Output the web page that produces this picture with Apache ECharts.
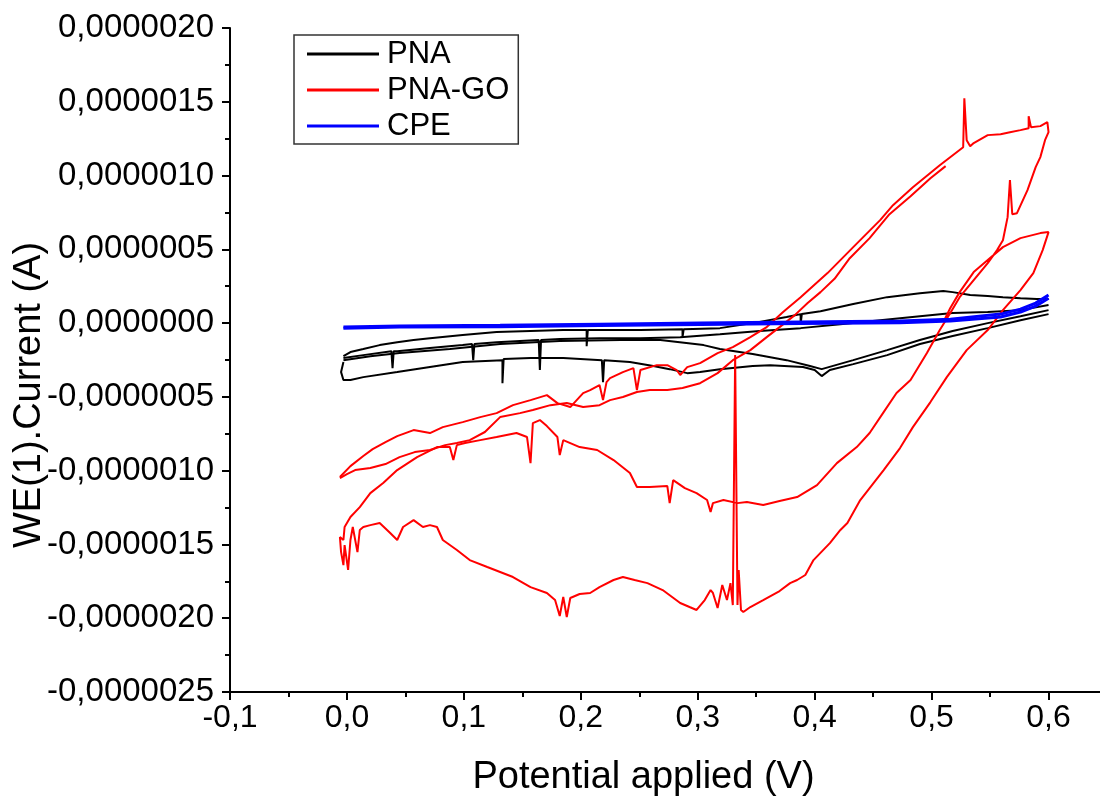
<!DOCTYPE html>
<html>
<head>
<meta charset="utf-8">
<title>CV PNA / PNA-GO / CPE</title>
<script src="https://cdn.jsdelivr.net/npm/echarts@6/dist/echarts.min.js"></script>
<style>
  html, body { margin: 0; padding: 0; background: #ffffff; }
  #chart { width: 1100px; height: 797px; }
</style>
</head>
<body>
<div id="chart"></div>
<script>
// potential in V, current in µA (axis labels are shown in A)
const seriesNames = ["PNA", "PNA-GO", "CPE"];
const xTicks = [-0.1, 0.0, 0.1, 0.2, 0.3, 0.4, 0.5, 0.6];
const yTicks = [-2.5, -2.0, -1.5, -1.0, -0.5, 0.0, 0.5, 1.0, 1.5, 2.0];

// PNA (black) - two cycles, four sweeps
const pnaUp1 = [
  [-0.003,-0.224],[0.003,-0.196],[0.014,-0.176],[0.028,-0.149],[0.043,-0.129],[0.057,-0.115],
  [0.071,-0.102],[0.099,-0.081],[0.128,-0.061],[0.157,-0.054],[0.185,-0.047],[0.205,-0.047],
  [0.205,-0.156],[0.206,-0.047],[0.216,-0.047],[0.251,-0.047],[0.287,-0.041],[0.287,-0.095],
  [0.288,-0.041],[0.319,-0.034],[0.347,0.000],[0.376,0.041],[0.388,0.061],[0.388,-0.007],
  [0.389,0.061],[0.405,0.081],[0.433,0.129],[0.462,0.176],[0.490,0.203],[0.510,0.217],
  [0.518,0.210],[0.533,0.190],[0.548,0.183],[0.561,0.176],[0.576,0.169],[0.590,0.163],[0.600,0.163]
];
const pnaDown1 = [
  [0.600,0.122],[0.576,0.088],[0.548,0.075],[0.518,0.068],[0.490,0.047],[0.456,0.020],
  [0.422,-0.007],[0.388,-0.034],[0.353,-0.054],[0.319,-0.075],[0.285,-0.095],[0.251,-0.102],
  [0.216,-0.102],[0.182,-0.108],[0.166,-0.115],[0.165,-0.318],[0.164,-0.115],[0.128,-0.129],
  [0.109,-0.142],[0.108,-0.251],[0.107,-0.142],[0.099,-0.149],[0.071,-0.169],[0.043,-0.190],
  [0.040,-0.190],[0.039,-0.305],[0.038,-0.190],[0.014,-0.217],[-0.003,-0.237]
];
const pnaUp2 = [
  [-0.003,-0.251],[0.020,-0.224],[0.045,-0.203],[0.088,-0.176],[0.131,-0.142],[0.182,-0.122],
  [0.234,-0.115],[0.268,-0.115],[0.305,-0.149],[0.319,-0.176],[0.347,-0.210],[0.376,-0.251],
  [0.396,-0.291],[0.406,-0.312],[0.433,-0.251],[0.462,-0.183],[0.490,-0.115],[0.518,-0.054],
  [0.548,0.000],[0.576,0.047],[0.600,0.088]
];
const pnaDown2 = [
  [0.600,0.061],[0.576,0.020],[0.548,-0.034],[0.518,-0.088],[0.490,-0.142],[0.462,-0.217],
  [0.433,-0.278],[0.413,-0.318],[0.406,-0.359],[0.400,-0.318],[0.390,-0.298],[0.362,-0.285],
  [0.347,-0.291],[0.319,-0.312],[0.302,-0.332],[0.291,-0.339],[0.276,-0.312],[0.262,-0.291],
  [0.242,-0.264],[0.220,-0.251],[0.219,-0.400],[0.218,-0.251],[0.185,-0.237],[0.157,-0.237],
  [0.134,-0.244],[0.133,-0.407],[0.133,-0.251],[0.099,-0.264],[0.071,-0.298],[0.043,-0.332],
  [0.014,-0.366],[0.003,-0.386],[-0.003,-0.386],[-0.005,-0.332],[-0.003,-0.264]
];

// PNA-GO (red)
const goLoopA = [
  [-0.006,-1.043],[0.003,-0.969],[0.014,-0.901],[0.022,-0.854],[0.033,-0.806],[0.043,-0.766],
  [0.057,-0.725],[0.071,-0.745],[0.082,-0.705],[0.099,-0.671],[0.114,-0.637],[0.128,-0.610],
  [0.142,-0.556],[0.157,-0.522],[0.171,-0.488],[0.180,-0.542],[0.191,-0.569],[0.202,-0.474],
  [0.208,-0.454],[0.216,-0.420],[0.219,-0.522],[0.222,-0.400],[0.225,-0.373],[0.236,-0.332],
  [0.245,-0.305],[0.248,-0.454],[0.251,-0.318],[0.265,-0.285],[0.274,-0.285],[0.282,-0.318],
  [0.285,-0.352],[0.291,-0.298],[0.302,-0.271],[0.317,-0.203],[0.330,-0.163],[0.345,-0.095],
  [0.359,-0.027],[0.373,0.075],[0.388,0.176],[0.411,0.339],[0.433,0.515],[0.456,0.698],
  [0.467,0.799],[0.484,0.921],[0.507,1.070],[0.527,1.192],[0.528,1.524],[0.530,1.240],
  [0.533,1.199],[0.536,1.220],[0.548,1.274],[0.559,1.280],[0.567,1.294],[0.576,1.308],
  [0.583,1.321],[0.583,1.402],[0.585,1.328],[0.593,1.335],[0.599,1.362],[0.600,1.294],
  [0.597,1.240],[0.593,1.125],[0.589,1.057],[0.582,0.901],[0.573,0.745],[0.569,0.738],
  [0.567,0.969],[0.565,0.718],[0.561,0.562],[0.556,0.495],[0.548,0.407],[0.536,0.291],
  [0.524,0.176],[0.516,0.068],[0.507,-0.047],[0.496,-0.203],[0.482,-0.386],[0.470,-0.474],
  [0.459,-0.603],[0.447,-0.745],[0.436,-0.840],[0.419,-0.949],[0.402,-1.098],[0.385,-1.179],
  [0.370,-1.206],[0.356,-1.233],[0.342,-1.213],[0.334,-1.220],[0.322,-1.199],[0.313,-1.220],
  [0.311,-1.280],[0.308,-1.199],[0.299,-1.152],[0.289,-1.118],[0.279,-1.064],[0.276,-1.220],
  [0.274,-1.104],[0.259,-1.111],[0.248,-1.111],[0.242,-1.016],[0.228,-0.928],[0.214,-0.860],
  [0.199,-0.840],[0.185,-0.793],[0.182,-0.894],[0.180,-0.772],[0.171,-0.698],[0.165,-0.657],
  [0.159,-0.678],[0.157,-0.949],[0.154,-0.772],[0.145,-0.745],[0.128,-0.772],[0.114,-0.793],
  [0.101,-0.813],[0.094,-0.827],[0.091,-0.928],[0.088,-0.840],[0.077,-0.840],[0.060,-0.908],
  [0.043,-0.996],[0.031,-1.084],[0.020,-1.152],[0.011,-1.247],[0.003,-1.314],[-0.002,-1.382],
  [-0.003,-1.470],[-0.006,-1.450],[-0.005,-1.552],[-0.003,-1.640],[-0.002,-1.504],[0.001,-1.673],
  [0.003,-1.470],[0.005,-1.382],[0.009,-1.552],[0.011,-1.402],[0.014,-1.382],[0.020,-1.369],
  [0.028,-1.355],[0.037,-1.423],[0.043,-1.470],[0.048,-1.382],[0.057,-1.335],[0.065,-1.382],
  [0.071,-1.369],[0.077,-1.382],[0.082,-1.470],[0.088,-1.504],[0.094,-1.538],[0.105,-1.606],
  [0.120,-1.653],[0.131,-1.687],[0.142,-1.721],[0.157,-1.789],[0.171,-1.829],[0.178,-1.877],
  [0.182,-1.985],[0.185,-1.856],[0.188,-1.992],[0.191,-1.863],[0.199,-1.836],[0.208,-1.829],
  [0.216,-1.789],[0.228,-1.741],[0.236,-1.721],[0.246,-1.741],[0.257,-1.762],[0.270,-1.809],
  [0.285,-1.897],[0.293,-1.924],[0.299,-1.944],[0.306,-1.877],[0.311,-1.809],[0.313,-1.829],
  [0.317,-1.931],[0.321,-1.775],[0.325,-1.877],[0.328,-1.762],[0.330,-1.911],[0.332,-0.217],
  [0.334,-1.911],[0.335,-1.673],[0.337,-1.944],[0.339,-1.958],[0.345,-1.924],[0.356,-1.877],
  [0.370,-1.816],[0.379,-1.762],[0.385,-1.741],[0.392,-1.707],[0.399,-1.606],[0.413,-1.491],
  [0.422,-1.402],[0.428,-1.355],[0.439,-1.199],[0.459,-0.996],[0.473,-0.847],[0.484,-0.705],
  [0.499,-0.535],[0.513,-0.366],[0.530,-0.183],[0.548,-0.047],[0.561,0.088],[0.576,0.224],
  [0.587,0.339],[0.595,0.495],[0.600,0.617],[0.593,0.610],[0.576,0.576],[0.561,0.515],
  [0.548,0.427],[0.536,0.346],[0.524,0.210],[0.516,0.102],[0.510,0.007]
];
const goLoopB = [
  [-0.006,-1.050],[0.000,-1.023],[0.007,-0.996],[0.020,-0.982],[0.033,-0.955],[0.045,-0.908],
  [0.058,-0.874],[0.071,-0.860],[0.084,-0.827],[0.094,-0.813],[0.105,-0.793],[0.118,-0.738],
  [0.131,-0.637],[0.148,-0.610],[0.159,-0.589],[0.174,-0.556],[0.188,-0.542],[0.202,-0.569],
  [0.216,-0.556],[0.225,-0.522],[0.236,-0.501],[0.248,-0.467],[0.259,-0.454],[0.274,-0.454],
  [0.287,-0.440],[0.302,-0.407],[0.317,-0.339],[0.330,-0.251],[0.345,-0.183],[0.359,-0.095],
  [0.370,-0.027],[0.383,0.054],[0.394,0.136],[0.405,0.210],[0.417,0.300],[0.430,0.440],
  [0.447,0.576],[0.464,0.738],[0.482,0.860],[0.499,0.982],[0.512,1.064]
];

// CPE (blue)
const cpeFwd = [
  [-0.003,-0.027],[0.045,-0.020],[0.131,-0.014],[0.216,-0.007],[0.302,0.000],[0.388,0.007],
  [0.473,0.014],[0.516,0.027],[0.559,0.061],[0.576,0.095],[0.589,0.136],[0.600,0.190]
];
const cpeRev = [
  [0.600,0.169],[0.589,0.115],[0.576,0.075],[0.559,0.041],[0.516,0.014],[0.473,0.003],
  [0.388,-0.003],[0.302,-0.010],[0.216,-0.017],[0.131,-0.024],[0.045,-0.027],[-0.003,-0.034]
];

const FONT = "'Liberation Sans', Arial, sans-serif";

function sweep(name, data, color, width) {
  return {
    name: name,
    type: "line",
    data: data,
    symbol: "none",
    showSymbol: false,
    smooth: false,
    lineStyle: { color: color, width: width },
    itemStyle: { color: color },
    emphasis: { disabled: true },
  };
}

const chart = echarts.init(document.getElementById("chart"));

const option = {
  animation: false,
  backgroundColor: "#ffffff",
  grid: { left: 230, right: -7, top: 28, bottom: 105, containLabel: false, outerBoundsMode: "none" },
  legend: {
    data: seriesNames.map(function (n) { return { name: n, icon: "rect" }; }),
    orient: "vertical",
    left: 294,
    top: 35,
    padding: [1, 9, 0, 13],
    itemGap: 0,
    itemWidth: 72,
    itemHeight: 3,
    borderColor: "#333333",
    borderWidth: 1.5,
    textStyle: { fontFamily: FONT, fontSize: 31, color: "#000", lineHeight: 36, padding: [0, 0, 0, 3] },
  },
  xAxis: {
    type: "value",
    min: xTicks[0],
    max: 0.65,
    interval: 0.1,
    name: "Potential applied (V)",
    nameLocation: "middle",
    nameGap: 67,
    nameTextStyle: { fontFamily: FONT, fontSize: 38, color: "#000", padding: [0, 50, 0, 0] },
    axisLine: { onZero: false, lineStyle: { color: "#000", width: 2 } },
    axisTick: { inside: false, length: 8, lineStyle: { color: "#000", width: 2 } },
    minorTick: { show: true, splitNumber: 2, length: 5, lineStyle: { color: "#000", width: 2 } },
    splitLine: { show: false },
    axisLabel: {
      margin: 10,
      fontFamily: FONT,
      fontSize: 32,
      color: "#000",
      formatter: function (v) {
        const hit = xTicks.some(function (t) { return Math.abs(t - v) < 1e-6; });
        return hit ? v.toFixed(1).replace(".", ",") : "";
      },
    },
  },
  yAxis: {
    type: "value",
    min: yTicks[0],
    max: yTicks[yTicks.length - 1],
    interval: 0.5,
    name: "WE(1).Current (A)",
    nameLocation: "middle",
    nameGap: 181,
    nameMoveOverlap: false,
    nameTextStyle: { fontFamily: FONT, fontSize: 38, color: "#000", padding: [0, 70, 0, 0] },
    axisLine: { show: true, onZero: false, lineStyle: { color: "#000", width: 2 } },
    axisTick: { show: true, inside: false, length: 8, lineStyle: { color: "#000", width: 2 } },
    minorTick: { show: true, splitNumber: 2, length: 5, lineStyle: { color: "#000", width: 2 } },
    splitLine: { show: false },
    axisLabel: {
      margin: 16,
      fontFamily: FONT,
      fontSize: 33,
      color: "#000",
      formatter: function (v) {
        const s = (Math.abs(v) < 1e-9 ? 0 : v * 1e-6).toFixed(7);
        return s.replace(".", ",");
      },
    },
  },
  series: [
    sweep("PNA", pnaUp1, "#000000", 2),
    sweep("PNA", pnaDown1, "#000000", 2),
    sweep("PNA", pnaUp2, "#000000", 2),
    sweep("PNA", pnaDown2, "#000000", 2),
    sweep("PNA-GO", goLoopA, "#ff0000", 2),
    sweep("PNA-GO", goLoopB, "#ff0000", 2),
    sweep("CPE", cpeFwd, "#0000ff", 3),
    sweep("CPE", cpeRev, "#0000ff", 3),
  ],
};

chart.setOption(option);
</script>
</body>
</html>
